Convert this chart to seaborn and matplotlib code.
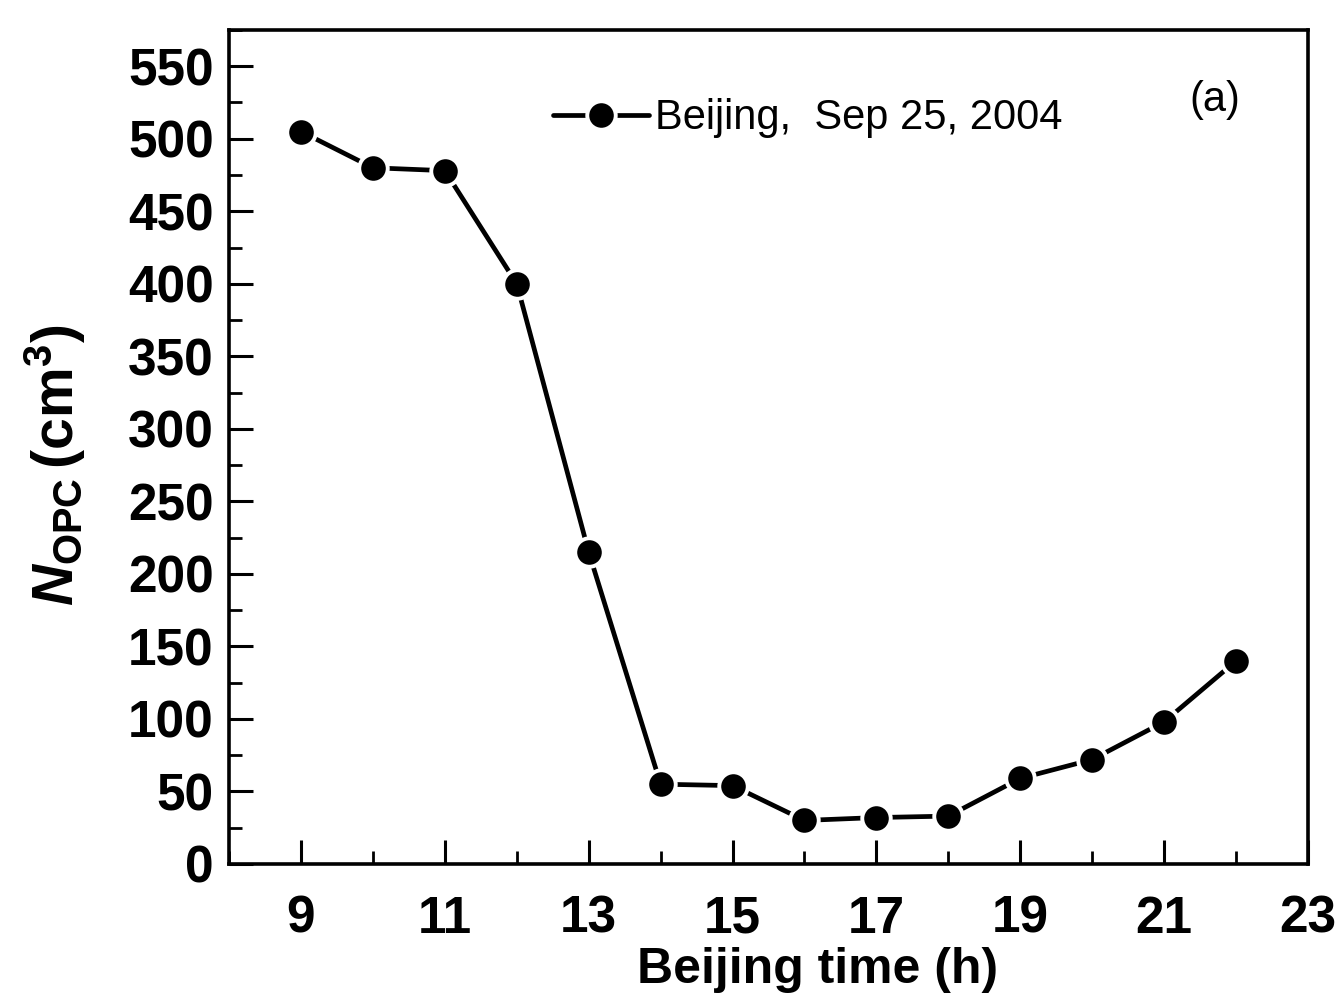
import matplotlib
matplotlib.use("Agg")
import matplotlib.pyplot as plt
from matplotlib.ticker import MultipleLocator
import seaborn as sns
import pandas as pd

# Hourly OPC particle number concentration, Beijing
hours = [9, 10, 11, 12, 13, 14, 15, 16, 17, 18, 19, 20, 21, 22]
n_opc = [505, 480, 478, 400, 215, 55, 54, 30, 32, 33, 59, 72, 98, 140]
series_label = "Beijing,  Sep 25, 2004"
x_label = "Beijing time (h)"
y_label = r"$N_{\rm OPC}\,{\rm (cm^{3})}$"
panel_tag = "(a)"

sns.set_theme(style="ticks")
plt.rcParams["font.family"] = ["Liberation Sans", "DejaVu Sans"]
plt.rcParams["mathtext.fontset"] = "custom"
plt.rcParams["mathtext.rm"] = "Liberation Sans:bold"
plt.rcParams["mathtext.it"] = "Liberation Sans:italic:bold"
plt.rcParams["mathtext.bf"] = "Liberation Sans:bold"
for key in ("text.color", "axes.labelcolor", "xtick.color", "ytick.color",
            "axes.edgecolor"):
    plt.rcParams[key] = "black"

fig = plt.figure(figsize=(13.41, 10.06), dpi=100)
ax = fig.add_axes([0.1708, 0.1412, 0.8046, 0.829])

df = pd.DataFrame({"time": hours, "n": n_opc})
sns.lineplot(data=df, x="time", y="n", ax=ax, color="black", lw=3.4,
             marker="o", markersize=20.5, markerfacecolor="black",
             markeredgecolor="white", markeredgewidth=2.8,
             label=series_label)

ax.set_xlim(8, 23)
ax.set_ylim(0, 575)
ax.set_xticks(range(9, 24, 2))
ax.xaxis.set_minor_locator(MultipleLocator(1))
ax.yaxis.set_major_locator(MultipleLocator(50))
ax.yaxis.set_minor_locator(MultipleLocator(25))

ax.tick_params(axis="both", which="major", direction="in", length=17, width=2.2,
               labelsize=37, top=False, right=False, colors="black")
ax.tick_params(axis="both", which="minor", direction="in", length=9.5, width=2.0,
               top=False, right=False, colors="black")
ax.tick_params(axis="y", which="major", pad=11)
ax.tick_params(axis="x", which="major", pad=22)
for lab in ax.get_xticklabels() + ax.get_yticklabels():
    lab.set_fontweight("bold")

for sp in ax.spines.values():
    sp.set_linewidth(2.6)
    sp.set_color("black")

ax.set_xlabel(x_label, fontsize=36, fontweight="bold", va="top")
ax.xaxis.set_label_coords(0.545, -0.100)
ax.set_ylabel(y_label, fontsize=41)
ax.yaxis.set_label_coords(-0.131, 0.478)

leg = ax.legend(loc="center left", bbox_to_anchor=(0.30, 0.894), frameon=False,
                fontsize=30, handlelength=2.3, handletextpad=0.15,
                borderpad=0, borderaxespad=0)

ax.text(0.914, 0.916, panel_tag, transform=ax.transAxes, fontsize=30,
        ha="center", va="center")

fig.savefig("out.png", dpi=100, facecolor="white")
